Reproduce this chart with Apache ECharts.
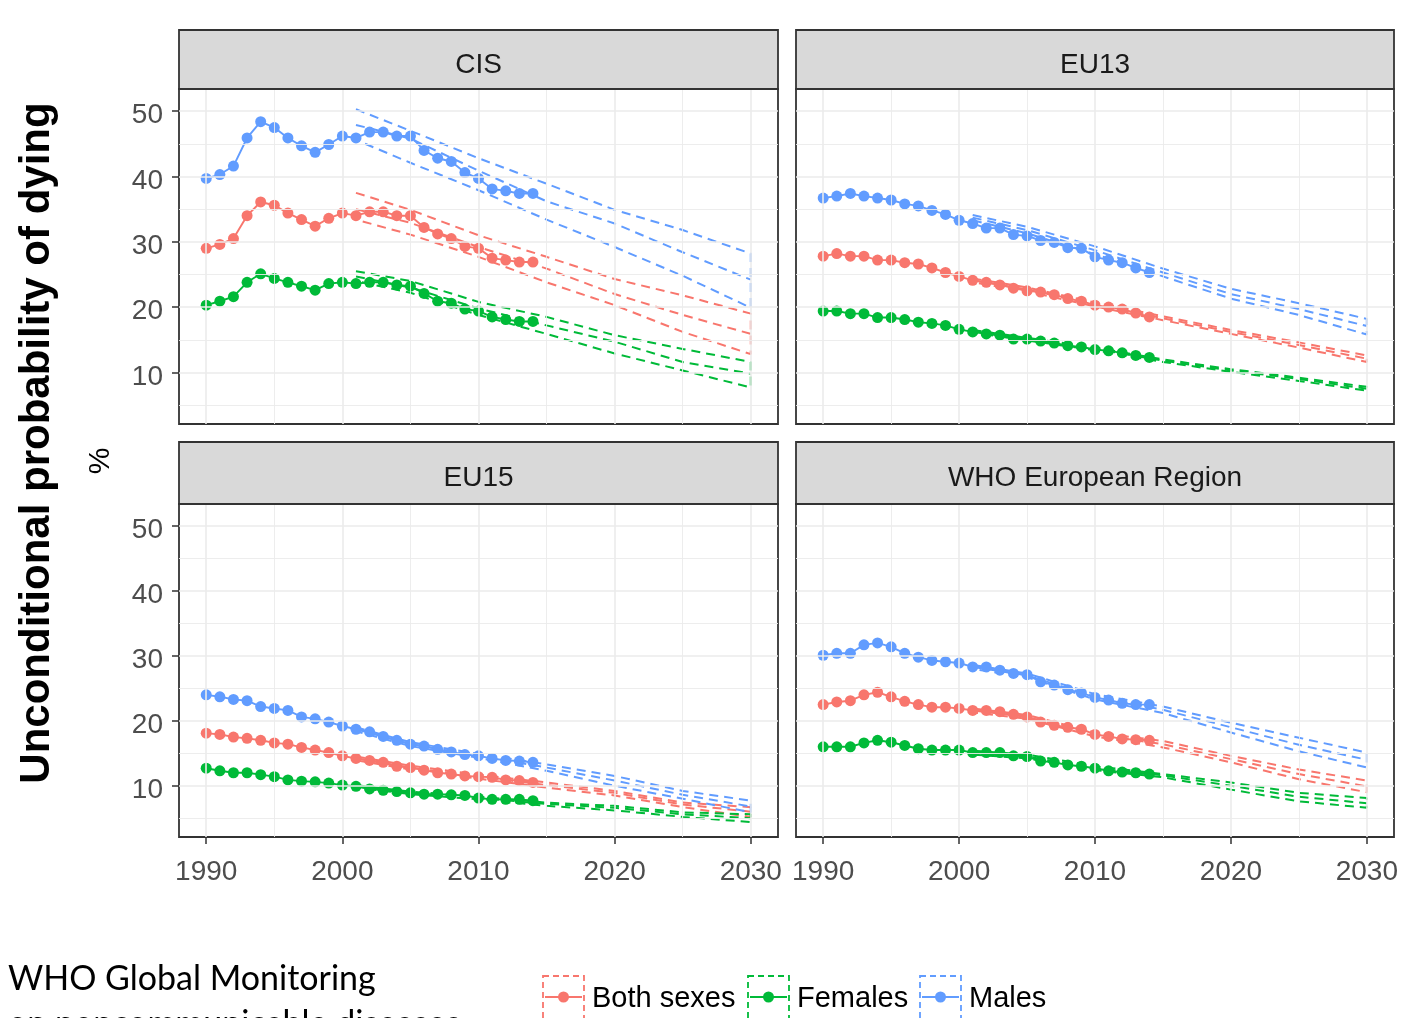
<!DOCTYPE html>
<html>
<head>
<meta charset="utf-8">
<title>Unconditional probability of dying</title>
<script src="https://cdn.jsdelivr.net/npm/echarts@6/dist/echarts.min.js"></script>
<style>
  html, body { margin: 0; padding: 0; background: #ffffff; }
  #chart { width: 1403px; height: 1018px; }
</style>
</head>
<body>
<div id="chart"></div>
<script>
// ---- Data ---------------------------------------------------------------
const regions = ['CIS', 'EU13', 'EU15', 'WHO European Region'];
const sexes = ['Both sexes', 'Females', 'Males'];
const years = [1990, 1991, 1992, 1993, 1994, 1995, 1996, 1997, 1998, 1999,
               2000, 2001, 2002, 2003, 2004, 2005, 2006, 2007, 2008, 2009,
               2010, 2011, 2012, 2013, 2014];
const projYears = [2001, 2005, 2010, 2015, 2020, 2025, 2030];
const xTicks = [1990, 2000, 2010, 2020, 2030];
const yTicks = [10, 20, 30, 40, 50];

// Observed, 1990-2014 (%)
const cisBoth    = [29.0, 29.6, 30.5, 34.0, 36.1, 35.6, 34.4, 33.4, 32.4, 33.6, 34.4, 34.0, 34.6, 34.6, 34.0, 34.0, 32.2, 31.2, 30.5, 29.3, 29.0, 27.5, 27.2, 26.9, 26.9];
const cisFemales = [20.3, 20.9, 21.6, 23.8, 25.1, 24.4, 23.8, 23.2, 22.6, 23.6, 23.8, 23.6, 23.8, 23.8, 23.4, 23.2, 22.1, 20.9, 20.6, 19.7, 19.4, 18.5, 18.1, 17.8, 17.8];
const cisMales   = [39.7, 40.3, 41.6, 45.9, 48.4, 47.5, 45.9, 44.7, 43.7, 44.9, 46.2, 45.9, 46.8, 46.8, 46.2, 46.2, 44.0, 42.8, 42.3, 40.6, 39.7, 38.1, 37.8, 37.4, 37.4];

const eu13Both    = [27.8, 28.2, 27.8, 27.8, 27.2, 27.2, 26.8, 26.6, 26.0, 25.3, 24.7, 24.1, 23.8, 23.4, 22.9, 22.5, 22.3, 21.9, 21.3, 20.9, 20.3, 20.0, 19.7, 19.1, 18.5];
const eu13Females = [19.4, 19.4, 19.0, 19.0, 18.4, 18.4, 18.1, 17.7, 17.5, 17.2, 16.6, 16.2, 15.9, 15.7, 15.1, 15.1, 14.8, 14.5, 14.1, 13.9, 13.5, 13.3, 13.0, 12.6, 12.3];
const eu13Males   = [36.7, 37.0, 37.4, 37.0, 36.7, 36.4, 35.8, 35.5, 34.8, 34.2, 33.3, 32.8, 32.1, 32.1, 31.1, 30.9, 30.2, 29.9, 29.1, 29.0, 27.7, 27.2, 26.8, 26.0, 25.3];

const eu15Both    = [18.1, 17.9, 17.5, 17.3, 17.0, 16.6, 16.4, 15.9, 15.5, 15.1, 14.6, 14.2, 13.9, 13.6, 13.0, 12.8, 12.4, 12.0, 11.8, 11.5, 11.4, 11.3, 10.9, 10.8, 10.5];
const eu15Females = [12.7, 12.3, 12.0, 12.0, 11.7, 11.4, 10.9, 10.7, 10.6, 10.4, 10.1, 9.9, 9.5, 9.3, 9.1, 8.9, 8.7, 8.7, 8.6, 8.5, 8.1, 7.9, 7.9, 7.9, 7.7];
const eu15Males   = [24.0, 23.7, 23.3, 23.1, 22.2, 21.9, 21.6, 20.6, 20.3, 19.8, 19.2, 18.7, 18.3, 17.6, 17.0, 16.4, 16.1, 15.6, 15.2, 14.8, 14.6, 14.2, 13.9, 13.8, 13.6];

const whoBoth    = [22.5, 22.9, 23.1, 24.0, 24.4, 23.7, 23.0, 22.5, 22.1, 22.1, 21.9, 21.6, 21.6, 21.4, 21.0, 20.6, 19.8, 19.3, 19.0, 18.7, 17.9, 17.6, 17.2, 17.1, 17.0];
const whoFemales = [16.0, 16.0, 16.0, 16.6, 17.0, 16.7, 16.2, 15.7, 15.5, 15.5, 15.5, 15.1, 15.1, 15.1, 14.6, 14.5, 13.8, 13.6, 13.2, 13.0, 12.7, 12.3, 12.1, 12.0, 11.8];
const whoMales   = [30.1, 30.4, 30.4, 31.7, 32.0, 31.4, 30.4, 29.8, 29.3, 29.1, 28.9, 28.3, 28.3, 27.8, 27.3, 27.1, 26.0, 25.5, 24.8, 24.3, 23.6, 23.2, 22.7, 22.5, 22.5];

// Projections at projYears: lower bound, central, upper bound (%)
const cisBothLow     = [33.4, 31.1, 27.7, 23.8, 20.3, 16.2, 12.8];
const cisBothMid     = [35.0, 32.9, 29.2, 25.9, 22.0, 18.8, 15.9];
const cisBothHigh    = [37.5, 34.9, 31.0, 27.7, 24.3, 21.8, 19.0];
const cisFemalesLow  = [24.0, 22.2, 18.8, 15.9, 12.9, 10.3, 7.7];
const cisFemalesMid  = [24.7, 23.0, 19.8, 17.2, 14.7, 11.6, 9.8];
const cisFemalesHigh = [25.5, 24.0, 20.8, 18.5, 15.7, 13.6, 11.6];
const cisMalesLow    = [45.6, 42.1, 37.9, 33.4, 29.2, 24.8, 19.9];
const cisMalesMid    = [47.9, 45.8, 40.9, 36.2, 32.8, 28.4, 24.2];
const cisMalesHigh   = [50.3, 47.0, 42.8, 38.9, 34.9, 31.8, 28.2];

const eu13BothLow     = [23.8, 22.4, 20.1, 18.0, 15.9, 13.8, 11.6];
const eu13BothMid     = [24.1, 22.7, 20.4, 18.3, 16.2, 14.2, 12.1];
const eu13BothHigh    = [24.4, 23.0, 20.7, 18.6, 16.5, 14.6, 12.6];
const eu13FemalesLow  = [16.1, 14.9, 13.4, 11.6, 10.1, 8.7, 7.2];
const eu13FemalesMid  = [16.3, 15.1, 13.6, 11.8, 10.3, 9.0, 7.5];
const eu13FemalesHigh = [16.5, 15.3, 13.8, 12.0, 10.5, 9.2, 7.8];
const eu13MalesLow    = [33.3, 31.3, 28.1, 24.7, 21.3, 18.8, 15.8];
const eu13MalesMid    = [33.7, 31.8, 28.7, 25.3, 22.0, 19.7, 17.1];
const eu13MalesHigh   = [34.1, 32.3, 29.3, 25.9, 22.8, 20.6, 18.2];

const eu15BothLow     = [13.9, 12.5, 11.1, 9.7, 8.5, 6.7, 5.2];
const eu15BothMid     = [14.2, 12.8, 11.4, 10.1, 8.9, 7.1, 6.0];
const eu15BothHigh    = [14.5, 13.1, 11.7, 10.5, 9.2, 7.4, 6.7];
const eu15FemalesLow  = [9.7, 8.7, 7.9, 6.9, 6.2, 5.2, 4.4];
const eu15FemalesMid  = [9.9, 8.9, 8.1, 7.2, 6.6, 5.6, 5.0];
const eu15FemalesHigh = [10.1, 9.1, 8.3, 7.4, 6.9, 5.9, 5.6];
const eu15MalesLow    = [18.4, 16.1, 14.3, 12.3, 10.0, 8.0, 5.9];
const eu15MalesMid    = [18.7, 16.4, 14.6, 12.8, 10.8, 8.6, 6.8];
const eu15MalesHigh   = [19.0, 16.7, 14.9, 13.3, 11.5, 9.2, 7.7];

const whoBothLow     = [21.3, 20.3, 17.6, 15.9, 13.6, 11.0, 9.0];
const whoBothMid     = [21.6, 20.6, 17.9, 16.4, 14.1, 11.8, 9.9];
const whoBothHigh    = [21.9, 20.9, 18.2, 16.9, 14.6, 12.5, 10.8];
const whoFemalesLow  = [14.8, 14.2, 12.4, 11.3, 9.4, 7.6, 6.6];
const whoFemalesMid  = [15.1, 14.5, 12.7, 11.6, 10.0, 8.3, 7.3];
const whoFemalesHigh = [15.4, 14.8, 13.0, 11.8, 10.5, 8.9, 8.1];
const whoMalesLow    = [28.0, 26.7, 23.3, 21.2, 18.2, 15.3, 12.8];
const whoMalesMid    = [28.3, 27.0, 23.7, 21.7, 19.0, 16.3, 14.0];
const whoMalesHigh   = [28.6, 27.3, 24.1, 22.2, 19.7, 17.4, 15.1];

// ---- Styling --------------------------------------------------------------
const sexColors = { 'Both sexes': '#F8766D', 'Females': '#00BA38', 'Males': '#619CFF' };
const FONT = '"Liberation Sans", Arial, sans-serif';
const NOTE_FONT = '34px Lato, "Open Sans", sans-serif';

// Per facet: observed and projected series, one entry per sex
const facets = [
  { obs: { 'Both sexes': cisBoth, 'Females': cisFemales, 'Males': cisMales },
    proj: { 'Both sexes': [cisBothLow, cisBothMid, cisBothHigh],
            'Females': [cisFemalesLow, cisFemalesMid, cisFemalesHigh],
            'Males': [cisMalesLow, cisMalesMid, cisMalesHigh] } },
  { obs: { 'Both sexes': eu13Both, 'Females': eu13Females, 'Males': eu13Males },
    proj: { 'Both sexes': [eu13BothLow, eu13BothMid, eu13BothHigh],
            'Females': [eu13FemalesLow, eu13FemalesMid, eu13FemalesHigh],
            'Males': [eu13MalesLow, eu13MalesMid, eu13MalesHigh] } },
  { obs: { 'Both sexes': eu15Both, 'Females': eu15Females, 'Males': eu15Males },
    proj: { 'Both sexes': [eu15BothLow, eu15BothMid, eu15BothHigh],
            'Females': [eu15FemalesLow, eu15FemalesMid, eu15FemalesHigh],
            'Males': [eu15MalesLow, eu15MalesMid, eu15MalesHigh] } },
  { obs: { 'Both sexes': whoBoth, 'Females': whoFemales, 'Males': whoMales },
    proj: { 'Both sexes': [whoBothLow, whoBothMid, whoBothHigh],
            'Females': [whoFemalesLow, whoFemalesMid, whoFemalesHigh],
            'Males': [whoMalesLow, whoMalesMid, whoMalesHigh] } }
];

// Panel placement (2 x 2 facet layout)
const panels = [
  { left: 179, top: 89,  width: 599, height: 335, stripTop: 30,  stripH: 59 },
  { left: 796, top: 89,  width: 598, height: 335, stripTop: 30,  stripH: 59 },
  { left: 179, top: 504, width: 599, height: 333, stripTop: 442, stripH: 62 },
  { left: 796, top: 504, width: 598, height: 333, stripTop: 442, stripH: 62 }
];

const X_MIN = 1988, X_MAX = 2032, Y_MIN = 2.1, Y_MAX = 53.4;
const DASH = [9, 6];

const grids = [], xAxes = [], yAxes = [], series = [], graphics = [];

panels.forEach((p, gi) => {
  const bottomRow = gi >= 2;
  const leftCol = gi % 2 === 0;
  grids.push({
    left: p.left, top: p.top, width: p.width, height: p.height,
    show: true, backgroundColor: '#ffffff', borderColor: '#333333', borderWidth: 1.8, z: 0
  });
  xAxes.push({
    gridIndex: gi, type: 'value', min: X_MIN, max: X_MAX,
    axisLine: { show: false }, splitLine: { show: false },
    axisTick: { show: bottomRow, customValues: xTicks, length: 7, lineStyle: { color: '#333333', width: 1.5 } },
    axisLabel: { show: bottomRow, customValues: xTicks, margin: 21, fontSize: 28,
                 color: '#4D4D4D', fontFamily: FONT, formatter: v => String(v) }
  });
  yAxes.push({
    gridIndex: gi, type: 'value', min: Y_MIN, max: Y_MAX,
    axisLine: { show: false }, splitLine: { show: false },
    axisTick: { show: leftCol, customValues: yTicks, length: 7, lineStyle: { color: '#333333', width: 1.5 } },
    axisLabel: { show: leftCol, customValues: yTicks, margin: 16, fontSize: 28,
                 verticalAlign: 'top', lineHeight: 9,
                 color: '#4D4D4D', fontFamily: FONT }
  });

  // Panel grid lines (major at 10s, minor at 5s)
  const gridLines = [];
  [1990, 2000, 2010, 2020, 2030].forEach(v => gridLines.push({ xAxis: v, lineStyle: { width: 1.6 } }));
  [1995, 2005, 2015, 2025].forEach(v => gridLines.push({ xAxis: v, lineStyle: { width: 0.9 } }));
  [10, 20, 30, 40, 50].forEach(v => gridLines.push({ yAxis: v, lineStyle: { width: 1.6 } }));
  [5, 15, 25, 35, 45].forEach(v => gridLines.push({ yAxis: v, lineStyle: { width: 0.9 } }));
  series.push({
    type: 'line', xAxisIndex: gi, yAxisIndex: gi, data: [], silent: true, z: 1,
    markLine: {
      silent: true, symbol: ['none', 'none'], animation: false,
      label: { show: false },
      lineStyle: { color: '#EBEBEB', type: 'solid' },
      emphasis: { disabled: true },
      data: gridLines
    }
  });

  const f = facets[gi];
  sexes.forEach(sex => {
    const color = sexColors[sex];
    const [low, mid, high] = f.proj[sex];
    // Projection band outline: upper bound forward, then lower bound back
    const band = projYears.map((y, i) => [y, high[i]])
      .concat(projYears.slice().reverse().map((y, i) => [y, low[low.length - 1 - i]]));
    series.push({
      type: 'line', name: sex, xAxisIndex: gi, yAxisIndex: gi, data: band,
      showSymbol: false, symbol: 'none', silent: true, z: 2,
      lineStyle: { color, width: 2, type: DASH }
    });
    series.push({
      type: 'line', name: sex, xAxisIndex: gi, yAxisIndex: gi,
      data: projYears.map((y, i) => [y, mid[i]]),
      showSymbol: false, symbol: 'none', silent: true, z: 2,
      lineStyle: { color, width: 2, type: DASH }
    });
    series.push({
      type: 'line', name: sex, xAxisIndex: gi, yAxisIndex: gi,
      data: years.map((y, i) => [y, f.obs[sex][i]]),
      symbol: 'circle', symbolSize: 11, showSymbol: true, silent: true, z: 3,
      itemStyle: { color, borderWidth: 0 },
      lineStyle: { color, width: 1.9 }
    });
  });

  // Facet strip
  graphics.push({
    type: 'rect', silent: true, z: 10,
    shape: { x: p.left, y: p.stripTop, width: p.width, height: p.stripH },
    style: { fill: '#D9D9D9', stroke: '#333333', lineWidth: 1.8 }
  });
  graphics.push({
    type: 'text', silent: true, z: 11,
    x: p.left + p.width / 2, y: p.stripTop + p.stripH / 2 + (gi < 2 ? 6 : 5),
    style: { text: regions[gi], fill: '#1A1A1A', font: '28px ' + FONT,
             align: 'center', verticalAlign: 'middle' }
  });
});

// Axis titles
graphics.push({
  type: 'text', silent: true, z: 11, x: 37, y: 443, rotation: Math.PI / 2,
  style: { text: 'Unconditional probability of dying', fill: '#000000',
           font: 'bold 42px ' + FONT, align: 'center', verticalAlign: 'middle' }
});
graphics.push({
  type: 'text', silent: true, z: 11, x: 101, y: 461, rotation: Math.PI / 2,
  style: { text: '%', fill: '#000000', font: '30px ' + FONT,
           align: 'center', verticalAlign: 'middle' }
});

// Legend: dashed key box with point-and-line glyph
const legendItems = [
  { sex: 'Both sexes', boxX: 543, textX: 592 },
  { sex: 'Females', boxX: 748, textX: 797 },
  { sex: 'Males', boxX: 920, textX: 969 }
];
legendItems.forEach(it => {
  const c = sexColors[it.sex];
  graphics.push({
    type: 'rect', silent: true, z: 11,
    shape: { x: it.boxX, y: 976, width: 41, height: 60 },
    style: { fill: 'none', stroke: c, lineWidth: 1.8, lineDash: [6, 4] }
  });
  graphics.push({
    type: 'line', silent: true, z: 11,
    shape: { x1: it.boxX + 2, y1: 997, x2: it.boxX + 39, y2: 997 },
    style: { stroke: c, lineWidth: 1.9 }
  });
  graphics.push({
    type: 'circle', silent: true, z: 12,
    shape: { cx: it.boxX + 20.5, cy: 997, r: 5.5 },
    style: { fill: c }
  });
  graphics.push({
    type: 'text', silent: true, z: 11, x: it.textX, y: 999,
    style: { text: it.sex, fill: '#000000', font: '29px ' + FONT,
             align: 'left', verticalAlign: 'middle' }
  });
});

// Source note (lower left)
graphics.push({
  type: 'text', silent: true, z: 11, x: 8, y: 979,
  style: { text: 'WHO Global Monitoring', fill: '#000000', font: NOTE_FONT,
           align: 'left', verticalAlign: 'middle' }
});
graphics.push({
  type: 'text', silent: true, z: 11, x: 8, y: 1024,
  style: { text: 'on noncommunicable diseases', fill: '#000000', font: NOTE_FONT,
           align: 'left', verticalAlign: 'middle' }
});

const chart = echarts.init(document.getElementById('chart'), null, { renderer: 'canvas' });
chart.setOption({
  animation: false,
  backgroundColor: '#ffffff',
  grid: grids,
  xAxis: xAxes,
  yAxis: yAxes,
  series: series,
  graphic: graphics
});
</script>
</body>
</html>
